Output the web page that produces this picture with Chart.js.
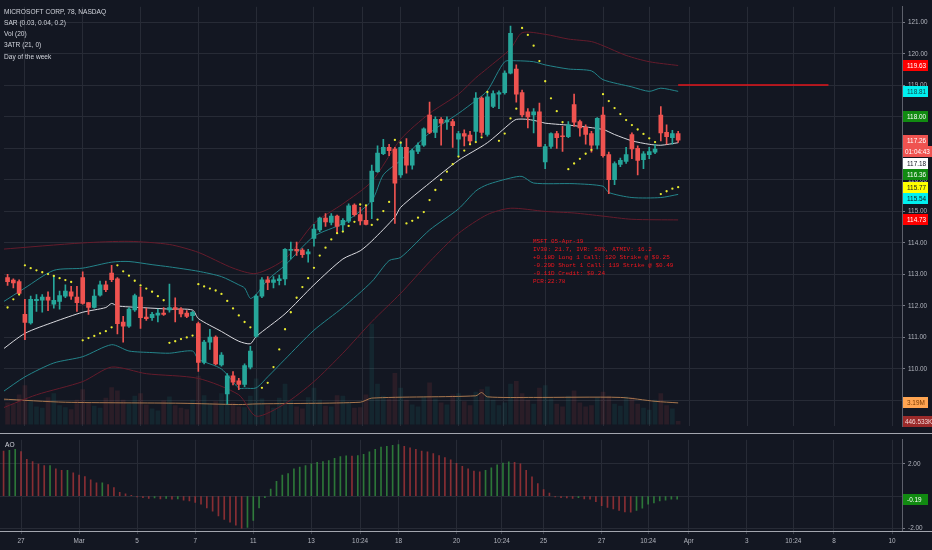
<!DOCTYPE html>
<html>
<head>
<meta charset="utf-8">
<script src="https://cdn.jsdelivr.net/npm/chart.js@4.4.1/dist/chart.umd.min.js"></script>
<style>
  html, body { margin: 0; padding: 0; background: #131722; }
  #wrap { position: relative; width: 932px; height: 550px; overflow: hidden; }
  #main { position: absolute; left: 0; top: 0; }
  #ao { position: absolute; left: 0; top: 433px; }
</style>
</head>
<body>
<div id="wrap">
  <canvas id="main" width="932" height="433"></canvas>
  <canvas id="ao" width="932" height="117"></canvas>
</div>
<script>
// bar index of the first candle (27 Feb 09:30 = 0, five 78-minute bars per day)
const firstBar = -3;

const opens = [112.90, 112.82, 112.77,
  111.73, 111.46, 112.17, 112.18, 112.28,
  112.06, 112.14, 112.31, 112.45, 112.28,
  112.90, 112.11, 111.95, 112.34, 112.67,
  113.04, 112.86, 111.49, 111.36, 111.87,
  112.28, 111.65, 111.63, 111.71, 111.77,
  111.87, 111.95, 111.90, 111.77, 111.69,
  111.44, 110.21, 110.85, 111.01, 110.13,
  109.21, 109.78, 109.62, 109.51, 110.06,
  111.03, 112.31, 112.83, 112.75, 112.80,
  112.86, 113.76, 113.80, 113.77, 113.65,
  114.14, 114.41, 114.79, 114.65, 114.85,
  114.57, 114.69, 115.20, 114.90, 114.72,
  115.31, 116.26, 116.83, 117.03, 116.98,
  116.16, 117.03, 116.47, 116.90, 117.10,
  118.06, 117.51, 117.92, 117.84, 117.85,
  117.29, 117.47, 117.42, 117.54, 118.60,
  117.44, 118.33, 118.72, 118.77, 119.39,
  119.52, 118.77, 118.16, 118.06, 118.16,
  116.57, 117.06, 117.47, 117.39, 117.37,
  118.39, 117.85, 117.67, 117.47, 117.10,
  118.06, 116.80, 116.01, 116.49, 116.59,
  117.44, 117.00, 116.64, 116.80, 116.88,
  118.06, 117.51, 117.34, 117.47];

const highs = [113.00, 112.86, 112.83,
  112.21, 112.31, 112.36, 112.36, 112.45,
  112.96, 112.47, 112.67, 112.62, 112.62,
  113.08, 112.11, 112.52, 112.79, 112.79,
  113.29, 112.90, 111.67, 111.95, 112.38,
  112.59, 111.93, 111.80, 111.90, 111.95,
  112.69, 112.26, 111.95, 111.85, 111.83,
  111.49, 110.91, 111.26, 111.05, 110.52,
  109.85, 109.92, 109.70, 110.16, 110.72,
  112.36, 112.90, 112.93, 112.93, 112.98,
  113.82, 114.03, 114.03, 113.82, 113.80,
  114.59, 114.82, 114.93, 114.93, 114.88,
  114.77, 115.24, 115.24, 115.13, 115.18,
  116.47, 117.08, 117.29, 117.13, 117.03,
  117.21, 117.31, 116.98, 117.18, 117.65,
  118.47, 118.00, 117.98, 118.00, 117.92,
  117.54, 117.59, 117.54, 118.77, 118.64,
  118.77, 118.83, 118.83, 119.46, 120.88,
  119.65, 118.85, 118.26, 118.26, 118.44,
  117.13, 117.49, 117.54, 117.70, 117.85,
  118.72, 117.90, 117.75, 117.54, 117.98,
  118.31, 116.88, 116.57, 116.69, 117.03,
  117.49, 117.08, 116.90, 117.03, 117.13,
  118.33, 117.75, 117.57, 117.54];

const lows = [112.65, 112.57, 112.36,
  110.93, 111.42, 111.83, 111.80, 111.85,
  111.93, 111.90, 112.26, 112.21, 111.83,
  112.06, 111.73, 111.93, 112.31, 112.45,
  112.77, 111.11, 110.85, 111.32, 111.83,
  111.29, 111.54, 111.54, 111.49, 111.70,
  111.80, 111.49, 111.65, 111.63, 111.54,
  109.92, 110.16, 110.62, 110.13, 110.09,
  108.88, 109.49, 109.34, 109.44, 110.00,
  111.01, 112.26, 112.52, 112.57, 112.67,
  112.67, 113.49, 113.60, 113.54, 113.39,
  113.90, 114.36, 114.52, 114.57, 114.31,
  114.36, 114.64, 114.85, 114.57, 114.57,
  114.77, 116.24, 116.80, 116.77, 114.62,
  116.08, 116.21, 116.34, 116.83, 117.06,
  117.47, 117.34, 117.10, 117.60, 117.03,
  116.77, 117.08, 117.13, 117.24, 117.41,
  117.39, 118.29, 118.26, 118.72, 119.36,
  118.47, 118.00, 117.65, 117.49, 117.06,
  116.36, 117.00, 117.00, 116.90, 117.34,
  117.70, 117.39, 117.13, 116.88, 116.98,
  116.72, 115.56, 115.85, 116.42, 116.52,
  116.67, 116.16, 116.36, 116.67, 116.83,
  117.24, 117.13, 117.13, 117.19];

const closes = [112.77, 112.73, 112.40,
  111.48, 112.21, 112.21, 112.28, 112.18,
  112.18, 112.33, 112.47, 112.31, 112.10,
  112.08, 111.95, 112.31, 112.67, 112.52,
  112.83, 111.44, 111.36, 111.90, 112.33,
  111.63, 111.60, 111.73, 111.77, 111.73,
  111.95, 111.89, 111.75, 111.67, 111.80,
  110.21, 110.85, 111.01, 110.16, 110.44,
  109.78, 109.58, 109.51, 110.11, 110.57,
  112.31, 112.83, 112.75, 112.83, 112.86,
  113.80, 113.80, 113.75, 113.63, 113.72,
  114.44, 114.79, 114.67, 114.85, 114.52,
  114.72, 115.18, 114.90, 114.70, 114.59,
  116.28, 116.85, 117.03, 116.93, 115.90,
  117.03, 116.47, 116.93, 117.10, 117.62,
  117.51, 117.92, 117.80, 117.90, 117.72,
  117.47, 117.39, 117.24, 118.60, 117.51,
  118.64, 118.74, 118.77, 119.39, 120.65,
  118.72, 118.06, 118.00, 118.16, 117.06,
  117.06, 117.47, 117.34, 117.37, 117.75,
  117.83, 117.65, 117.44, 117.10, 117.95,
  116.77, 116.01, 116.52, 116.62, 116.80,
  116.98, 116.62, 116.83, 116.90, 116.98,
  117.49, 117.37, 117.47, 117.26];

// volume in millions
const volumes = [3.2, 3.0, 4.4,
  5.8, 3.4, 2.6, 2.4, 4.0,
  4.6, 2.8, 2.5, 2.2, 3.6,
  5.2, 3.2, 2.7, 2.4, 3.9,
  5.5, 5.0, 3.6, 3.0, 4.2,
  4.6, 2.9, 2.3, 2.0, 3.5,
  4.1, 2.8, 2.4, 2.2, 3.6,
  7.2, 4.3, 3.1, 3.4, 4.6,
  5.6, 3.2, 2.6, 2.5, 4.2,
  6.8, 3.8, 2.8, 2.4, 3.9,
  6.0, 3.5, 2.6, 2.3, 4.0,
  5.4, 3.6, 2.7, 2.6, 4.3,
  4.2, 3.3, 2.4, 2.5, 4.4,
  15.0, 6.0, 4.2, 3.8, 7.6,
  5.4, 3.6, 2.9, 2.6, 4.1,
  6.2, 3.8, 3.2, 2.9, 4.4,
  4.6, 3.4, 2.8, 4.8, 5.2,
  5.6, 3.6, 2.8, 3.2, 6.0,
  6.4, 4.6, 3.6, 3.0, 5.4,
  5.8, 3.8, 3.0, 2.6, 4.2,
  5.0, 3.2, 2.6, 2.8, 4.0,
  4.8, 4.2, 3.0, 2.7, 4.1,
  4.0, 3.0, 2.4, 2.1, 3.6,
  4.6, 2.8, 2.3, 0.4465];

const sar = [111.95, 112.21, 112.36,
  113.29, 113.20, 113.13, 113.07, 113.01,
  112.95, 112.88, 112.82, 112.76, null,
  110.91, 110.98, 111.05, 111.13, 111.20,
  111.32, 113.29, 113.10, 112.96, 112.80,
  112.65, 112.55, 112.45, 112.31, 112.18,
  110.83, 110.88, 110.95, 111.00, 111.06,
  112.69, 112.62, 112.55, 112.49, 112.38,
  112.16, 111.92, 111.70, 111.49, 111.32,
  null, 109.40, 109.56, 110.06, 110.62,
  111.26, 111.80, 112.26, 112.60, 112.88,
  113.21, 113.60, 113.85, 114.11, 114.31,
  114.36, 114.54, 114.67, 115.22, 115.19,
  114.57, 114.74, 115.01, 115.30, 117.27,
  117.18, 114.62, 114.70, 114.80, 114.98,
  115.36, 115.68, 116.00, 116.26, 116.50,
  116.74, 116.93, 117.13, 117.20, 117.35,
  118.79, null, 117.24, 117.47, 117.95,
  118.26, 120.82, 120.60, 120.26, 119.77,
  119.13, 118.59, 118.18, 117.83, 116.34,
  116.52, 116.67, 116.83, 116.95, null,
  118.72, 118.50, 118.28, 118.09, 117.90,
  117.74, 117.60, 117.46, 117.32, 117.20,
  115.55, 115.64, 115.72, 115.77];

const ao = [2.8, 2.85, 2.9,
  2.77, 2.28, 2.14, 1.99, 1.89,
  1.9, 1.7, 1.6, 1.6, 1.44,
  1.3, 1.21, 1.01, 0.82, 0.83,
  0.72, 0.53, 0.23, 0.14, 0.05,
  -0.05, -0.1, -0.15, -0.12, -0.18,
  -0.15, -0.2, -0.18, -0.25, -0.3,
  -0.4, -0.5, -0.74, -0.94, -1.23,
  -1.45, -1.62, -1.81, -2.0, -1.95,
  -1.52, -0.74, -0.1, 0.43, 0.92,
  1.3, 1.4, 1.7, 1.8, 1.9,
  2.0, 2.1, 2.15, 2.2, 2.35,
  2.45, 2.5, 2.48, 2.52, 2.6,
  2.75, 2.9, 3.05, 3.1, 3.15,
  3.2, 3.1, 3.0, 2.9, 2.8,
  2.75, 2.65, 2.52, 2.4, 2.25,
  2.03, 1.85, 1.7, 1.55, 1.5,
  1.6, 1.75, 1.94, 2.05, 2.13,
  2.1, 2.0, 1.6, 1.2, 0.77,
  0.4, 0.18, -0.05, -0.1, -0.12,
  -0.15, -0.1, -0.18, -0.2, -0.35,
  -0.6, -0.7, -0.8, -0.9, -0.98,
  -1.0, -0.9, -0.75, -0.5, -0.42,
  -0.3, -0.25, -0.2, -0.19];

// 3ATR channel lines, read at a few bars each
const midBars = [-4, 0, 5, 10, 14, 15, 16, 20, 25, 29, 30, 34, 37, 39, 40, 45, 50, 55, 58, 60, 64, 65, 70, 75, 80, 84, 85, 87, 89, 90, 95, 100, 102, 105, 108, 110, 113];
const midVals = [110.6, 111.13, 111.49, 111.80, 111.95, 112.08, 112.0, 111.95, 111.9, 111.87, 111.6, 111.19, 110.88, 110.80, 111.03, 111.75, 112.67, 113.49, 113.75, 114.06, 114.82, 115.13, 115.90, 116.62, 117.18, 117.80, 117.92, 117.92, 117.85, 117.80, 117.72, 117.6, 117.44, 117.24, 117.13, 117.10, 117.18];

const upperBars = [-4, 0, 5, 10, 15, 18, 22, 25, 30, 34, 37, 38, 39, 40, 42, 45, 50, 55, 60, 62, 65, 70, 75, 78, 80, 83, 85, 88, 90, 94, 98, 100, 105, 108, 110, 113];
const upperVals = [112.1, 112.57, 113.13, 113.2, 113.39, 113.41, 113.31, 113.24, 113.10, 112.93, 112.67, 112.57, 112.24, 112.36, 112.83, 113.29, 114.21, 114.62, 115.34, 116.16, 116.62, 117.49, 118.11, 118.52, 118.83, 119.75, 119.78, 119.75, 119.65, 119.52, 119.46, 119.18, 118.95, 118.81, 118.91, 118.81];

const lowerBars = [-4, 0, 5, 10, 15, 18, 22, 25, 29, 30, 34, 37, 38, 40, 42, 45, 50, 55, 60, 63, 65, 70, 75, 78, 80, 84, 86, 88, 95, 100, 101, 105, 110, 113];
const lowerVals = [109.25, 109.75, 110.19, 110.39, 110.77, 110.57, 110.52, 110.5, 110.57, 110.31, 110.0, 109.39, 109.39, 109.4, 109.75, 110.31, 111.23, 111.95, 112.77, 113.44, 113.54, 114.41, 115.08, 115.65, 115.85, 116.06, 116.11, 115.9, 115.88, 115.8, 115.6, 115.44, 115.44, 115.54];

const outerUpBars = [-4, 10, 18, 25, 30, 36, 40, 45, 50, 55, 60, 65, 70, 75, 78, 80, 84, 86, 90, 94, 98, 100, 104, 108, 113];
const outerUpVals = [113.8, 114.0, 114.05, 113.95, 113.7, 113.2, 113.03, 113.49, 114.62, 115.24, 115.95, 117.29, 118.11, 118.72, 119.24, 119.54, 120.16, 120.67, 120.62, 120.47, 120.39, 120.26, 119.95, 119.75, 119.63];

const outerLowBars = [-4, 2, 10, 15, 21, 30, 37, 40, 45, 50, 55, 60, 65, 70, 75, 80, 84, 90, 95, 100, 105, 113];
const outerLowVals = [108.75, 109.18, 109.6, 110.06, 109.85, 109.7, 109.18, 108.5, 108.9, 109.6, 110.5, 111.5, 112.4, 113.4, 114.3, 114.9, 115.1, 115.0, 114.95, 114.85, 114.75, 114.73];

const volMaBars = [-4, 7, 27, 37, 40, 58, 60, 78, 79, 80, 88, 103, 109, 113];
const volMaVals = [3.77, 3.29, 3.14, 2.94, 3.04, 3.29, 3.91, 4.25, 4.74, 4.10, 4.01, 4.01, 3.43, 3.19];

const hlineBars = [113, 139];
const hlineVals = [119.01, 119.01];

const xTickBars = [0, 10, 20, 30, 40, 50, 58.4, 65, 75, 82.8, 90, 100, 108, 115, 125, 133, 140, 150];
const xTickLabels = ['27', 'Mar', '5', '7', '11', '13', '10:24', '18', '20', '10:24', '25', '27', '10:24', 'Apr', '3', '10:24', '8', '10'];
const priceTicks = [121, 120, 119, 118, 117, 116, 115, 114, 113, 112, 111, 110, 109];
const aoTicks = [2, 0, -2];

const tagValues = [119.63, 118.81, 118.00, 117.26, 117.26, 117.18, 116.36, 115.77, 115.54, 114.73];
const tagTexts = ['119.63', '118.81', '118.00', '117.26', '01:04:43', '117.18', '116.36', '115.77', '115.54', '114.73'];
const tagBg = ['#ff0000', '#00f0f0', '#118a11', '#ef5350', '#ef5350', '#ffffff', '#118a11', '#ffff00', '#00f0f0', '#ff0000'];
const tagFg = ['#ffffff', '#124848', '#ffffff', '#ffffff', '#ffffff', '#131722', '#ffffff', '#131722', '#131722', '#ffffff'];
const volTagValues = [3.19, 0.4465];
const volTagTexts = ['3.19M', '446.533K'];
const volTagBg = ['#ffa552', '#9a2a2a'];
const volTagFg = ['#7a3a00', '#f3d6d6'];

const legendLines = ['MICROSOFT CORP, 78, NASDAQ', 'SAR (0.03, 0.04, 0.2)', 'Vol (20)', '3ATR (21, 0)', 'Day of the week'];
const noteLines = ['MSFT 05-Apr-19', 'IV30: 21.7, IVR: 50%, ATMIV: 16.2', '+0.18D Long 1 Call: 120 Strike @ $0.25',
  '-0.29D Short 1 Call: 119 Strike @ $0.49', '-0.11D Credit: $0.24', 'PCR:22:78'];

const gridCol = '#272b36';
const tickCol = '#b2b5be';
const upCol = '#26a69a';
const downCol = '#ef5350';
const smallFont = { family: 'Liberation Sans', size: 6.4 };

// pane geometry, in pixels of the 932x550 picture
const xMin = -3.6166, xMax = 151.72;
const priceMin = 108.185, priceMax = 121.492;
const volMin = -0.29, volMax = 62.46;
const aoMin = -2.175, aoMax = 3.498;

function isUp(i) { return closes[i] >= opens[i]; }
function pairs(xs, ys) { return xs.map((x, i) => ({ x: x, y: ys[i] })); }
const barX = opens.map((_, i) => firstBar + i);

function drawTag(ctx, x, y, w, h, fill, ink, text) {
  const top = Math.round(y - h / 2);
  ctx.fillStyle = fill;
  ctx.fillRect(x, top, w, h);
  ctx.fillStyle = ink;
  ctx.textAlign = 'left';
  ctx.textBaseline = 'middle';
  ctx.fillText(text, x + (text.length > 6 ? 2 : 4), top + h / 2 + 0.5);
}

const mainOverlay = {
  id: 'mainOverlay',
  afterDraw(chart) {
    const ctx = chart.ctx;
    ctx.save();
    ctx.textAlign = 'left';
    ctx.textBaseline = 'middle';
    ctx.font = '6.6px "Liberation Sans"';
    ctx.fillStyle = '#d1d4dc';
    legendLines.forEach((t, i) => ctx.fillText(t, 4, 11.7 + i * 11.3));

    ctx.font = '6px "Liberation Mono"';
    ctx.fillStyle = '#f0161e';
    noteLines.forEach((t, i) => ctx.fillText(t, 533, 241.7 + i * 8));

    ctx.font = '6.4px "Liberation Sans"';
    const y = chart.scales.y;
    let prev = -100;
    tagValues.forEach((v, i) => {
      let py = y.getPixelForValue(v);
      if (py < prev + 11.6) py = prev + 11.6;
      prev = py;
      const w = tagTexts[i].length > 6 ? 29 : 25;
      drawTag(ctx, 903, py, w, 11, tagBg[i], tagFg[i], tagTexts[i]);
    });
    const yv = chart.scales.yVol;
    volTagValues.forEach((v, i) => {
      const w = volTagTexts[i].length > 6 ? 29 : 25;
      drawTag(ctx, 903, yv.getPixelForValue(v), w, 11, volTagBg[i], volTagFg[i], volTagTexts[i]);
    });
    ctx.restore();
  }
};

const aoOverlay = {
  id: 'aoOverlay',
  afterDraw(chart) {
    const ctx = chart.ctx;
    const area = chart.chartArea;
    ctx.save();
    ctx.strokeStyle = '#a3a6af';
    ctx.lineWidth = 1;
    ctx.beginPath();
    ctx.moveTo(0, 0.5); ctx.lineTo(932, 0.5);
    ctx.moveTo(0, area.bottom + 0.5); ctx.lineTo(932, area.bottom + 0.5);
    ctx.stroke();
    ctx.font = '6.6px "Liberation Sans"';
    ctx.fillStyle = '#d1d4dc';
    ctx.textAlign = 'left';
    ctx.textBaseline = 'middle';
    ctx.fillText('AO', 5, 12);
    const last = ao[ao.length - 1];
    ctx.font = '6.4px "Liberation Sans"';
    drawTag(ctx, 903, chart.scales.y.getPixelForValue(last), 25, 11, '#118a11', '#ffffff', last.toFixed(2));
    ctx.restore();
  }
};

function xScale(showLabels) {
  return {
    type: 'linear',
    min: xMin,
    max: xMax,
    offset: false,
    grid: { color: gridCol, offset: false, drawTicks: showLabels, tickLength: 3, tickColor: '#3a3e49' },
    border: { display: false },
    ticks: {
      display: showLabels,
      autoSkip: false,
      maxRotation: 0,
      padding: 3,
      color: tickCol,
      font: smallFont,
      callback: (v, i) => xTickLabels[i]
    },
    afterBuildTicks: s => { s.ticks = xTickBars.map(v => ({ value: v })); },
    afterFit: s => { s.height = showLabels ? 19 : 0; }
  };
}

function rightScale(min, max, ticks, hideZero) {
  return {
    position: 'right',
    min: min,
    max: max,
    grid: { color: gridCol, tickLength: 3, tickColor: '#787b86' },
    border: { display: true, color: '#5d606b' },
    ticks: {
      padding: 3,
      color: tickCol,
      font: smallFont,
      callback: v => (hideZero && v === 0) ? '' : Number(v).toFixed(2)
    },
    afterBuildTicks: s => { s.ticks = ticks.map(v => ({ value: v })); },
    afterFit: s => { s.width = 30; }
  };
}

function lineSet(xs, ys, color, width, order, axis) {
  return {
    type: 'line',
    data: pairs(xs, ys),
    borderColor: color,
    borderWidth: width,
    pointRadius: 0,
    tension: 0.25,
    fill: false,
    order: order,
    yAxisID: axis || 'y'
  };
}

new Chart(document.getElementById('main'), {
  type: 'bar',
  data: {
    datasets: [
      {
        label: 'SAR',
        type: 'line',
        data: pairs(barX, sar),
        showLine: false,
        pointRadius: 1.15,
        pointBorderWidth: 0,
        pointBackgroundColor: '#e8ea30',
        order: 1
      },
      {
        label: 'body',
        data: barX.map((x, i) => ({ x: x, y: [opens[i], closes[i]] })),
        backgroundColor: ctx => isUp(ctx.dataIndex) ? upCol : downCol,
        barThickness: 4,
        minBarLength: 1,
        grouped: false,
        order: 2
      },
      {
        label: 'wick',
        data: barX.map((x, i) => ({ x: x, y: [lows[i], highs[i]] })),
        backgroundColor: ctx => isUp(ctx.dataIndex) ? upCol : downCol,
        barThickness: 1,
        grouped: false,
        order: 3
      },
      lineSet(midBars, midVals, '#d9d9de', 1, 4),
      lineSet(upperBars, upperVals, '#24848a', 1, 5),
      lineSet(lowerBars, lowerVals, '#24848a', 1, 5),
      lineSet(outerUpBars, outerUpVals, '#651c2c', 1, 6),
      lineSet(outerLowBars, outerLowVals, '#651c2c', 1, 6),
      Object.assign(lineSet(hlineBars, hlineVals, '#e3161b', 1.5, 4), { tension: 0 }),
      lineSet(volMaBars, volMaVals, '#a8774f', 1, 7, 'yVol'),
      {
        label: 'volume',
        yAxisID: 'yVol',
        data: pairs(barX, volumes),
        backgroundColor: ctx => isUp(ctx.dataIndex) ? 'rgba(38,166,154,0.11)' : 'rgba(239,83,80,0.11)',
        barThickness: 4,
        grouped: false,
        order: 9
      }
    ]
  },
  options: {
    responsive: false,
    animation: false,
    events: [],
    layout: { padding: 0 },
    plugins: { legend: { display: false }, tooltip: { enabled: false } },
    scales: {
      x: xScale(false),
      y: rightScale(priceMin, priceMax, priceTicks, false),
      yVol: { display: false, min: volMin, max: volMax }
    }
  },
  plugins: [mainOverlay]
});

new Chart(document.getElementById('ao'), {
  type: 'bar',
  data: {
    datasets: [{
      label: 'AO',
      data: pairs(barX, ao),
      backgroundColor: ctx => {
        const i = ctx.dataIndex;
        return i > 0 && ao[i] >= ao[i - 1] ? 'rgba(56,160,66,0.7)' : 'rgba(200,58,62,0.65)';
      },
      barThickness: 1,
      grouped: false
    }]
  },
  options: {
    responsive: false,
    animation: false,
    events: [],
    layout: { padding: { top: 1, left: 0, right: 0, bottom: 0 } },
    plugins: { legend: { display: false }, tooltip: { enabled: false } },
    scales: {
      x: xScale(true),
      y: rightScale(aoMin, aoMax, aoTicks, true)
    }
  },
  plugins: [aoOverlay]
});
</script>
</body>
</html>
